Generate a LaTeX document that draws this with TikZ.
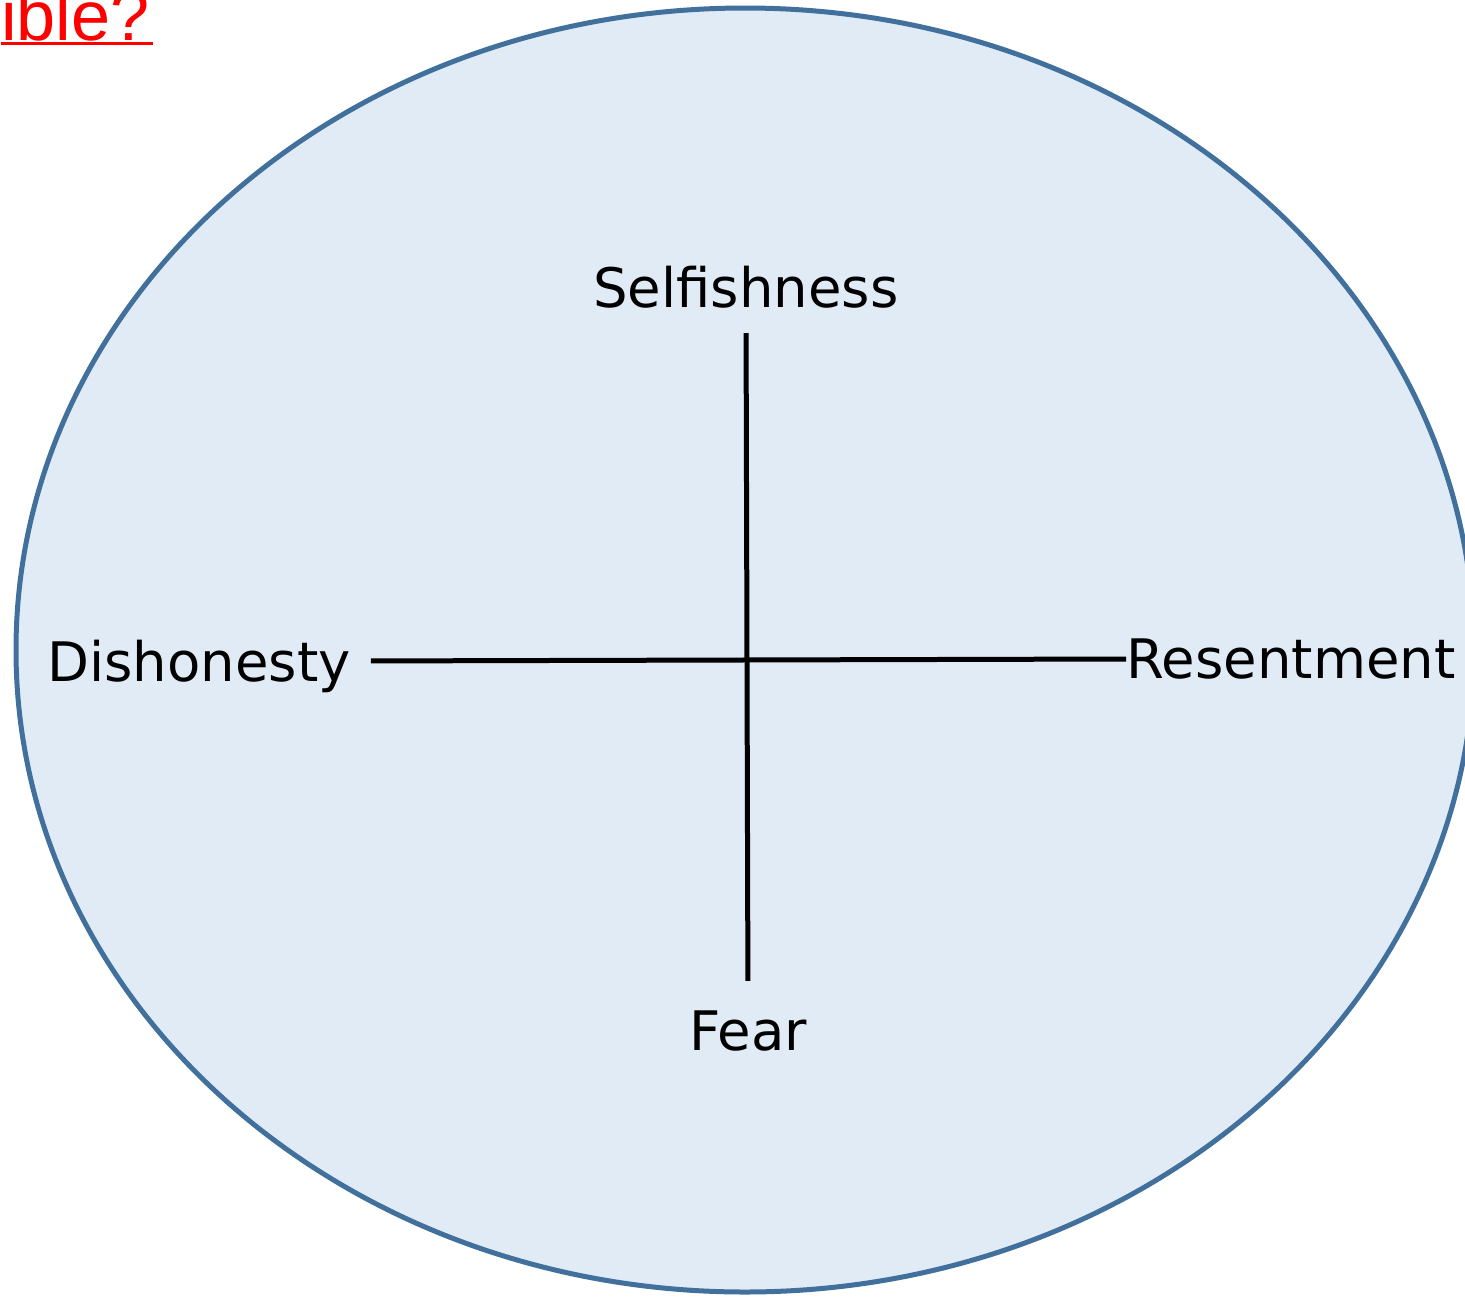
\documentclass[tikz,border=0pt]{standalone}
\usepackage{fontspec}
\setmainfont{DejaVu Sans}
\newfontfamily\titlefont{Liberation Sans}
\usepackage{tikz}

\definecolor{RingLine}{RGB}{65,112,156}
\definecolor{RingFill}{RGB}{225,235,246}

\begin{document}
\begin{tikzpicture}[x=0.02cm,y=-0.02cm,
  label/.style={inner sep=0pt,text depth=0pt,font=\fontsize{31}{37}\selectfont},
  axis/.style={line width=0.1cm}]
  \useasboundingbox (0,0) rectangle (1465,1296);
  \draw[draw=RingLine,fill=RingFill,line width=0.1cm] (745,650) ellipse [x radius=729, y radius=642];

  \node[anchor=base east,text=red,inner sep=0pt,font=\titlefont\fontsize{40}{48}\selectfont] (title) at (150,40) {ible?};
  \draw[red,line width=0.06cm] ([yshift=-0.07cm]title.base west) -- ([xshift=0.06cm,yshift=-0.07cm]title.base east);

  \node[label] (self) at (746,287)  {Selfishness};
  \node[label] (fear) at (748,1031) {Fear};
  \node[label] (dis)  at (199,661)  {Dishonesty};
  \node[label] (res)  at (1291,659) {Resentment};

  \draw[axis,shorten <=0.5cm,shorten >=0.6cm] (self.south) -- (fear.north);
  \draw[axis,shorten <=0.4cm] (dis.east) -- (res.west);
\end{tikzpicture}
\end{document}
